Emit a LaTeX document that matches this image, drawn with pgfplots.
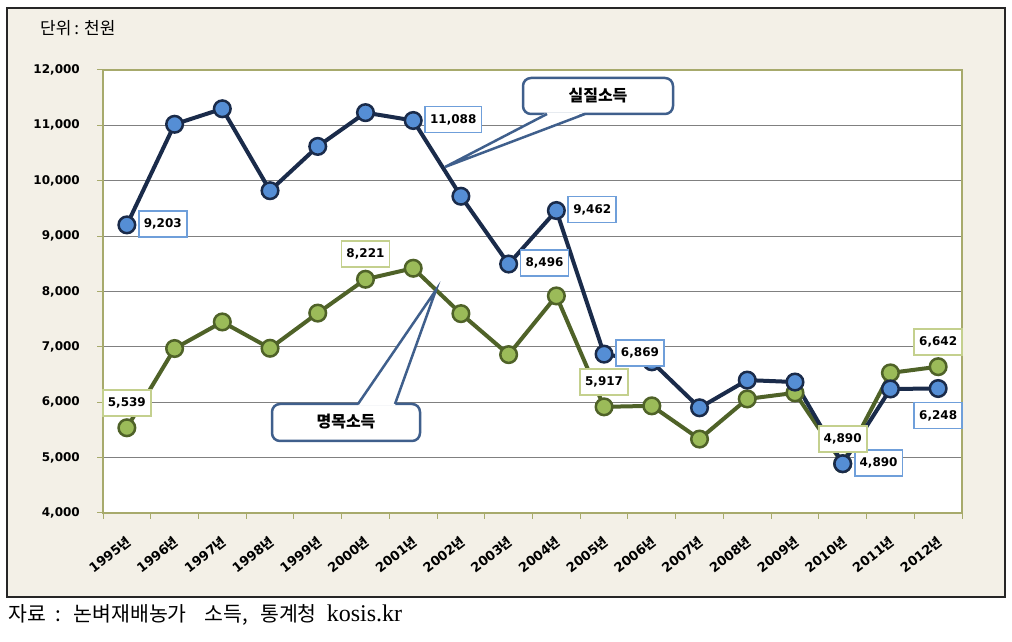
\documentclass[border=0pt]{standalone}
\usepackage{fontspec}
\usepackage{pgfplots}
\usepackage{pgfplotstable}
\pgfplotsset{compat=1.18}
\setmainfont{DejaVu Sans}
\newfontfamily\kr{Noto Sans CJK KR}
\newfontfamily\lser{Liberation Serif}
\definecolor{frameBG}{HTML}{F3F0E7}
\definecolor{plotBorder}{HTML}{A7AA6C}
\definecolor{navy}{HTML}{1A2B4A}
\definecolor{blueFill}{HTML}{558ED5}
\definecolor{oliveLine}{HTML}{4F6228}
\definecolor{greenFill}{HTML}{9BBB59}
\definecolor{blueBox}{HTML}{6F9FDA}
\definecolor{greenBox}{HTML}{C4D08E}
\definecolor{callout}{HTML}{3F5F8C}
\definecolor{gridc}{HTML}{808080}

\pgfplotstableread{
x real nominal
0 9203 5539
1 11020 6970
2 11300 7450
3 9820 6975
4 10620 7610
5 11230 8221
6 11088 8420
7 9720 7600
8 8496 6860
9 9462 7920
10 6869 5917
11 6730 5935
12 5900 5335
13 6400 6060
14 6365 6170
15 4890 4890
16 6240 6530
17 6248 6642
}\data

\begin{document}
\begin{tikzpicture}
\path[use as bounding box] (0,0) rectangle (1012pt,642pt);
\draw[fill=frameBG, draw=black!85, line width=1.5pt] (7pt,45pt) rectangle (1005pt,634pt);
\node[anchor=west, inner sep=0pt] at (40pt,614pt) {\kr\fontsize{17}{17}\selectfont 단위\hspace{3pt}:\hspace{5pt}천원};
\begin{axis}[
  at={(103pt,129pt)}, anchor=south west,
  scale only axis, width=859pt, height=443pt,
  xmin=-0.5, xmax=17.5, ymin=4000, ymax=12000,
  clip=false,
  axis background/.style={fill=white},
  axis line style={draw=plotBorder, line width=1.5pt},
  tick align=outside, tick pos=left,
  major tick length=0pt, minor tick length=6pt,
  every tick/.style={draw=plotBorder, line width=1pt},
  xtick={0,...,17},
  minor xtick={-0.5,0.5,...,17.5},
  ytick={4000,5000,...,12000},
  minor ytick={4000,5000,...,12000},
  scaled y ticks=false,
  yticklabel={\pgfmathprintnumber[fixed,precision=0,1000 sep={,},assume math mode=true]{\tick}},
  ymajorgrids,
  major grid style={draw=gridc, line width=1pt},
  xticklabels={1995{\kr 년},1996{\kr 년},1997{\kr 년},1998{\kr 년},1999{\kr 년},2000{\kr 년},2001{\kr 년},2002{\kr 년},2003{\kr 년},2004{\kr 년},2005{\kr 년},2006{\kr 년},2007{\kr 년},2008{\kr 년},2009{\kr 년},2010{\kr 년},2011{\kr 년},2012{\kr 년}},
  xticklabel style={rotate=38, anchor=north east, inner sep=0pt, xshift=-15pt, yshift=-16pt, font=\fontsize{13}{13}\selectfont\bfseries},
  yticklabel style={anchor=east, inner sep=0pt, xshift=-23pt, font=\fontsize{12}{12}\selectfont\bfseries},
]
\addplot[oliveLine, line width=4pt, mark=*, mark size=8.3pt,
  mark options={fill=greenFill, draw=oliveLine, line width=2.5pt}]
  table[x=x, y=nominal] {\data};
\addplot[navy, line width=4pt, mark=*, mark size=8.3pt,
  mark options={fill=blueFill, draw=navy, line width=2.5pt}]
  table[x=x, y=real] {\data};
% data labels
\addplot[draw=none, mark=none,
  nodes near coords={\pgfmathprintnumber[fixed,precision=0,1000 sep={,},assume math mode=true]{\pgfplotspointmeta}},
  nodes near coords style={anchor=west, xshift=11pt, yshift=1pt, draw=blueBox, fill=white, line width=1.8pt, inner xsep=5pt, inner ysep=0pt, minimum height=26pt, font=\fontsize{12}{12}\selectfont\bfseries, text=black}]
  coordinates {(0,9203) (6,11088) (8,8496) (9,9462) (10,6869) (15,4890)};
\addplot[draw=none, mark=none,
  nodes near coords={\pgfmathprintnumber[fixed,precision=0,1000 sep={,},assume math mode=true]{\pgfplotspointmeta}},
  nodes near coords style={anchor=north, yshift=-13pt, draw=blueBox, fill=white, line width=1.8pt, inner xsep=5pt, inner ysep=0pt, minimum height=26pt, font=\fontsize{12}{12}\selectfont\bfseries, text=black}]
  coordinates {(17,6248)};
\addplot[draw=none, mark=none,
  nodes near coords={\pgfmathprintnumber[fixed,precision=0,1000 sep={,},assume math mode=true]{\pgfplotspointmeta}},
  nodes near coords style={anchor=south, yshift=11pt, draw=greenBox, fill=white, line width=1.8pt, inner xsep=5pt, inner ysep=0pt, minimum height=26pt, font=\fontsize{12}{12}\selectfont\bfseries, text=black}]
  coordinates {(0,5539) (5,8221) (10,5917) (15,4890) (17,6642)};
\end{axis}
% callout 1
\draw[callout, line width=2.5pt, fill=white, rounded corners=8pt] (523pt,528pt) rectangle (673pt,564pt);
\fill[white] (547pt,529.6pt) -- (445pt,475pt) -- (585pt,529.6pt) -- cycle;
\draw[callout, line width=2.5pt] (547pt,528pt) -- (445pt,475pt) -- (585pt,528pt);
\node at (598pt,546pt) {\kr\bfseries\fontsize{16}{16}\selectfont 실질소득};
% callout 2
\draw[callout, line width=2.5pt, fill=white, rounded corners=8pt] (272pt,201pt) rectangle (420pt,238pt);
\fill[white] (358pt,236.4pt) -- (436pt,352pt) -- (395pt,236.4pt) -- cycle;
\draw[callout, line width=2.5pt] (358pt,238pt) -- (436pt,352pt) -- (395pt,238pt);
\node at (346pt,220pt) {\kr\bfseries\fontsize{16}{16}\selectfont 명목소득};
% source
\node[anchor=base west, inner sep=0pt] at (8pt,20pt) {\kr\fontsize{20.5}{20.5}\selectfont 자료\hspace{10pt}:\hspace{12pt}논벼재배농가\hspace{18pt}소득,\hspace{12pt}통계청\hspace{10pt}{\lser\fontsize{24}{24}\selectfont kosis.kr}};
\end{tikzpicture}
\end{document}
